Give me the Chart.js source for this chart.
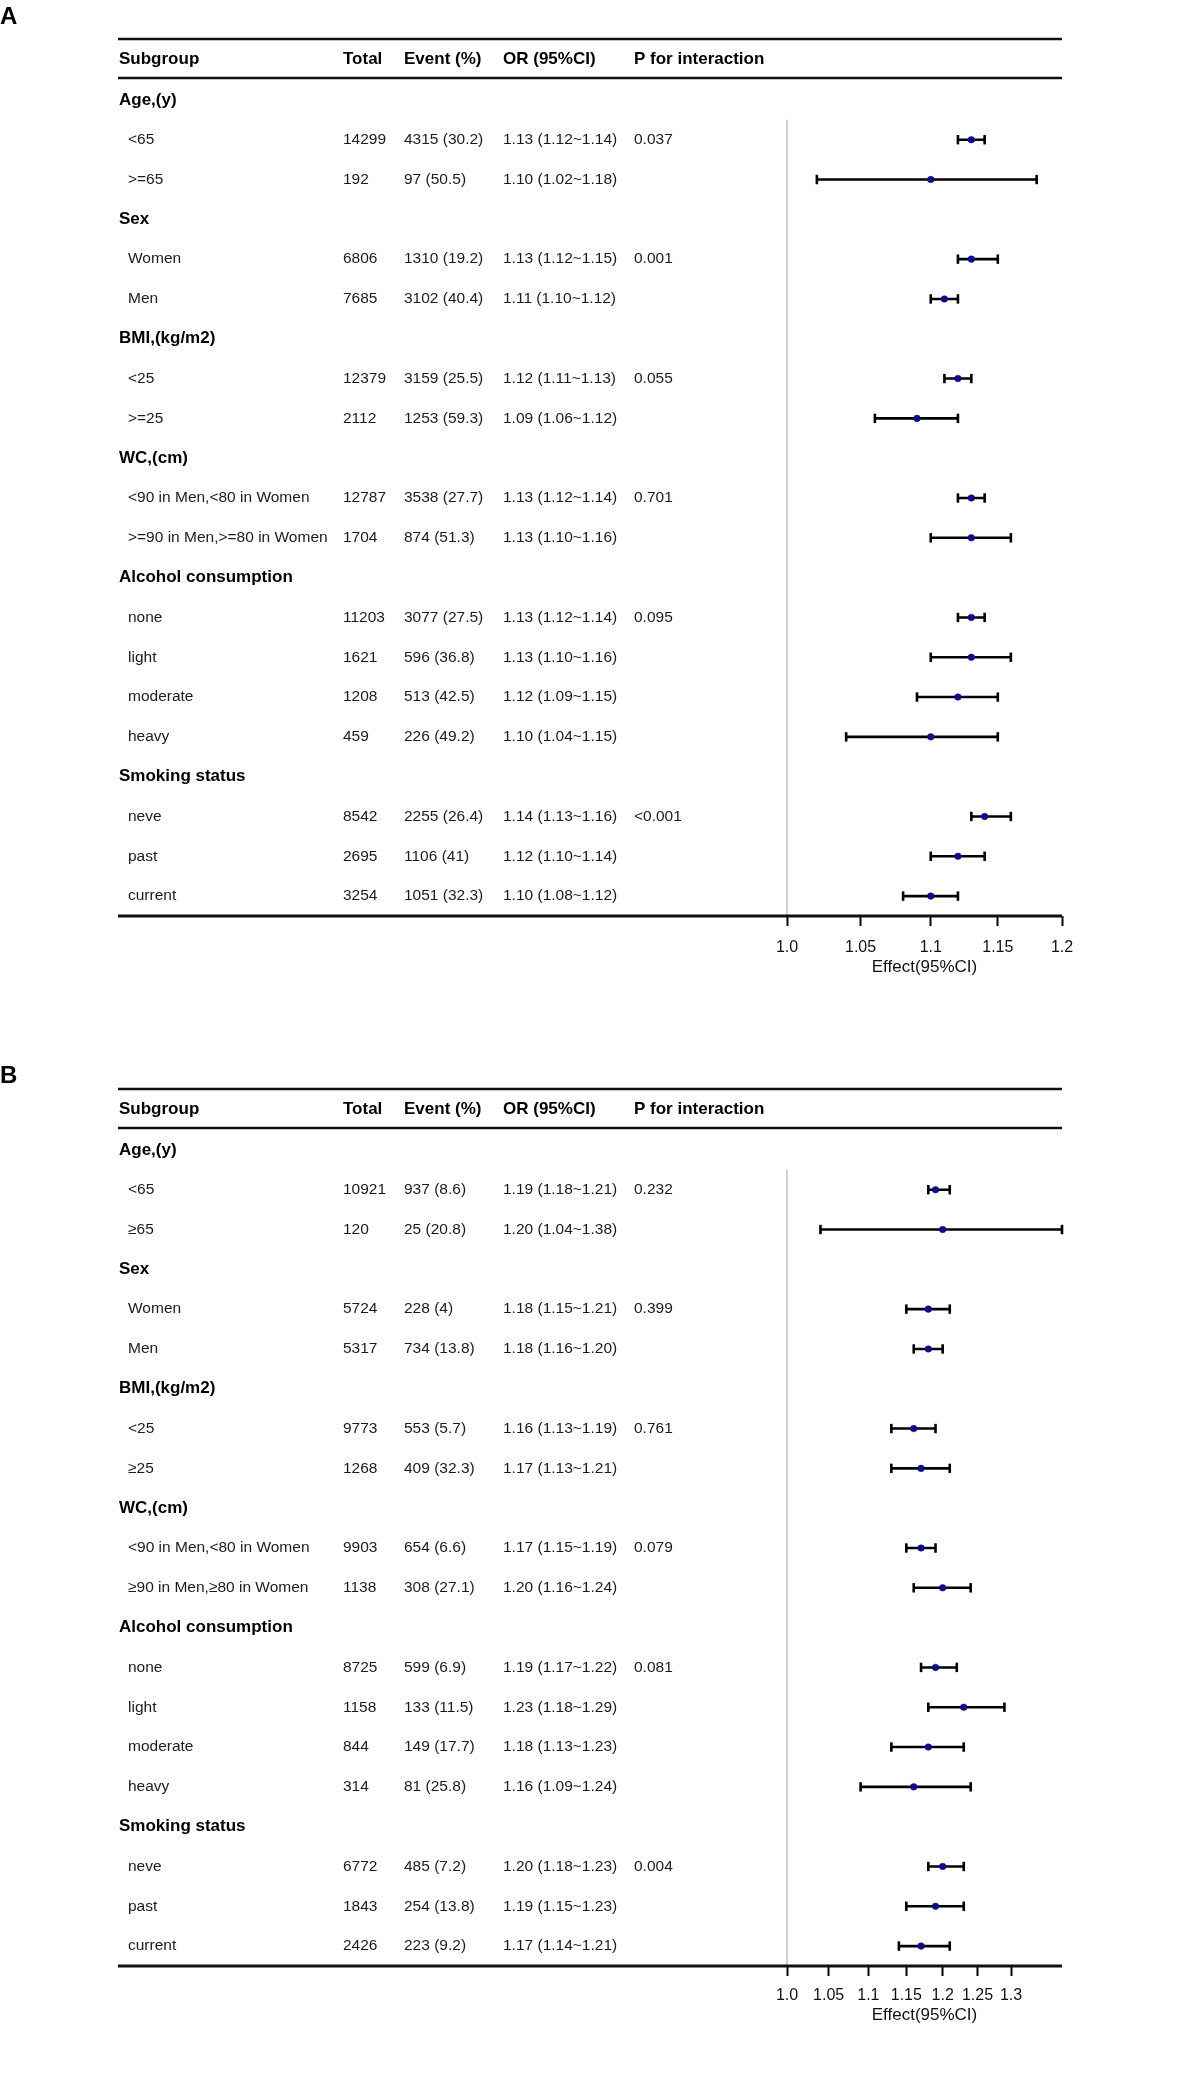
<!DOCTYPE html>
<html>
<head>
<meta charset="utf-8">
<script src="https://cdn.jsdelivr.net/npm/chart.js@4.4.1/dist/chart.umd.min.js"></script>
<style>
html, body { margin: 0; padding: 0; background: #fff; }
#wrap { position: relative; width: 1181px; height: 2074px; }
canvas { position: absolute; left: 0; }
#chartA { top: 0; }
#chartB { top: 1040px; }
</style>
</head>
<body>
<div id="wrap">
  <canvas id="chartA" width="1181" height="1040"></canvas>
  <canvas id="chartB" width="1181" height="1034"></canvas>
</div>
<script>
// subgroups shared by both panels
const groups = ['Age,(y)', 'Sex', 'BMI,(kg/m2)', 'WC,(cm)', 'Alcohol consumption', 'Smoking status'];
const groupSizes = [2, 2, 2, 2, 4, 3];
const headers = ['Subgroup', 'Total', 'Event (%)', 'OR (95%CI)', 'P for interaction'];

// panel A
const subA = ['<65', '>=65', 'Women', 'Men', '<25', '>=25', '<90 in Men,<80 in Women', '>=90 in Men,>=80 in Women',
  'none', 'light', 'moderate', 'heavy', 'neve', 'past', 'current'];
const totalA = [14299, 192, 6806, 7685, 12379, 2112, 12787, 1704, 11203, 1621, 1208, 459, 8542, 2695, 3254];
const eventA = ['4315 (30.2)', '97 (50.5)', '1310 (19.2)', '3102 (40.4)', '3159 (25.5)', '1253 (59.3)', '3538 (27.7)', '874 (51.3)',
  '3077 (27.5)', '596 (36.8)', '513 (42.5)', '226 (49.2)', '2255 (26.4)', '1106 (41)', '1051 (32.3)'];
const orA = [1.13, 1.10, 1.13, 1.11, 1.12, 1.09, 1.13, 1.13, 1.13, 1.13, 1.12, 1.10, 1.14, 1.12, 1.10];
const lowA = [1.12, 1.02, 1.12, 1.10, 1.11, 1.06, 1.12, 1.10, 1.12, 1.10, 1.09, 1.04, 1.13, 1.10, 1.08];
const highA = [1.14, 1.18, 1.15, 1.12, 1.13, 1.12, 1.14, 1.16, 1.14, 1.16, 1.15, 1.15, 1.16, 1.14, 1.12];
const pA = ['0.037', '', '0.001', '', '0.055', '', '0.701', '', '0.095', '', '', '', '<0.001', '', ''];
const ticksA = [1.0, 1.05, 1.1, 1.15, 1.2];
const tickLabelsA = ['1.0', '1.05', '1.1', '1.15', '1.2'];

// panel B
const subB = ['<65', '\u226565', 'Women', 'Men', '<25', '\u226525', '<90 in Men,<80 in Women', '\u226590 in Men,\u226580 in Women',
  'none', 'light', 'moderate', 'heavy', 'neve', 'past', 'current'];
const totalB = [10921, 120, 5724, 5317, 9773, 1268, 9903, 1138, 8725, 1158, 844, 314, 6772, 1843, 2426];
const eventB = ['937 (8.6)', '25 (20.8)', '228 (4)', '734 (13.8)', '553 (5.7)', '409 (32.3)', '654 (6.6)', '308 (27.1)',
  '599 (6.9)', '133 (11.5)', '149 (17.7)', '81 (25.8)', '485 (7.2)', '254 (13.8)', '223 (9.2)'];
const orB = [1.19, 1.20, 1.18, 1.18, 1.16, 1.17, 1.17, 1.20, 1.19, 1.23, 1.18, 1.16, 1.20, 1.19, 1.17];
const lowB = [1.18, 1.04, 1.15, 1.16, 1.13, 1.13, 1.15, 1.16, 1.17, 1.18, 1.13, 1.09, 1.18, 1.15, 1.14];
const highB = [1.21, 1.38, 1.21, 1.20, 1.19, 1.21, 1.19, 1.24, 1.22, 1.29, 1.23, 1.24, 1.23, 1.23, 1.21];
const pB = ['0.232', '', '0.399', '', '0.761', '', '0.079', '', '0.081', '', '', '', '0.004', '', ''];
const ticksB = [1.0, 1.05, 1.1, 1.15, 1.2, 1.25, 1.3];
const tickLabelsB = ['1.0', '1.05', '1.1', '1.15', '1.2', '1.25', '1.3'];

const FONT = '"Liberation Sans", Arial, Helvetica, sans-serif';
const headX = [119, 343, 404, 503, 634];
const colX = [128, 343, 404, 503, 634];
const lineLeft = 118;

function buildRows() {
  const rows = [];
  let k = 0;
  groups.forEach((g, gi) => {
    rows.push({ head: g });
    for (let j = 0; j < groupSizes[gi]; j++) rows.push({ item: k++ });
  });
  return rows;
}

function makePanel(id, d) {
  const rows = buildRows();
  const n = rows.length;
  const itemRow = [];
  rows.forEach((r, i) => { if (r.item !== undefined) itemRow[r.item] = i; });

  const dots = d.or.map((v, k) => ({ x: v, y: itemRow[k] }));
  const caps = [];
  const whiskers = [];
  d.low.forEach((lo, k) => {
    caps.push({ x: lo, y: itemRow[k] }, { x: d.high[k], y: itemRow[k] });
    whiskers.push({ x: lo, y: itemRow[k] }, { x: d.high[k], y: itemRow[k] }, { x: null, y: null });
  });

  const tablePlugin = {
    id: 'table',
    afterDraw(chart) {
      const ctx = chart.ctx;
      const ys = chart.scales.y;
      const ca = chart.chartArea;
      ctx.save();
      // panel letter
      ctx.fillStyle = '#000';
      ctx.font = 'bold 24px ' + FONT;
      ctx.textBaseline = 'middle';
      ctx.textAlign = 'left';
      ctx.fillText(d.letter, 0, d.letterY);

      // rules
      ctx.strokeStyle = '#111';
      ctx.lineWidth = 2.5;
      ctx.beginPath();
      ctx.moveTo(lineLeft, ca.top - 41); ctx.lineTo(ca.right, ca.top - 41);
      ctx.moveTo(lineLeft, ca.top - 2); ctx.lineTo(ca.right, ca.top - 2);
      ctx.stroke();
      ctx.lineWidth = 3.2;
      ctx.beginPath();
      ctx.moveTo(lineLeft, ca.bottom); ctx.lineTo(ca.right, ca.bottom);
      ctx.stroke();

      // header
      ctx.font = 'bold 17px ' + FONT;
      headers.forEach((h, i) => ctx.fillText(h, headX[i], ca.top - 21));

      // rows
      rows.forEach((r, i) => {
        const y = ys.getPixelForValue(i);
        if (r.head) {
          ctx.fillStyle = '#000';
          ctx.font = 'bold 17px ' + FONT;
          ctx.fillText(r.head, headX[0], y);
        } else {
          const k = r.item;
          ctx.fillStyle = '#1b1b1b';
          ctx.font = '15.5px ' + FONT;
          ctx.fillText(d.sub[k], colX[0], y);
          ctx.fillText(String(d.total[k]), colX[1], y);
          ctx.fillText(d.event[k], colX[2], y);
          ctx.fillText(d.or[k].toFixed(2) + ' (' + d.low[k].toFixed(2) + '~' + d.high[k].toFixed(2) + ')', colX[3], y);
          if (d.p[k]) ctx.fillText(d.p[k], colX[4], y);
        }
      });
      ctx.restore();
    }
  };

  new Chart(document.getElementById(id), {
    type: 'scatter',
    data: {
      datasets: [
        {
          data: dots, order: 0, clip: false,
          pointRadius: 3.3, pointBackgroundColor: '#0b0b8c', pointBorderColor: '#0b0b8c', pointBorderWidth: 0.5
        },
        {
          data: caps, order: 1, clip: false,
          pointStyle: 'line', rotation: 90, pointRadius: 4.7,
          pointBorderColor: '#000', pointBorderWidth: 2.6
        },
        {
          data: whiskers, order: 2, clip: false, showLine: true, spanGaps: false,
          borderColor: '#000', borderWidth: 2.6, pointRadius: 0
        },
        {
          data: [{ x: 1, y: 0.5 }, { x: 1, y: n - 0.5 }], order: 3, clip: false, showLine: true,
          borderColor: '#b3b3b3', borderWidth: 1.2, pointRadius: 0
        }
      ]
    },
    options: {
      responsive: false,
      animation: false,
      events: [],
      layout: { padding: { left: 787, right: 119, top: d.padTop, bottom: d.padBottom } },
      plugins: { legend: { display: false }, tooltip: { enabled: false } },
      scales: {
        y: {
          type: 'linear', reverse: true, min: -0.5, max: n - 0.5, display: false
        },
        x: {
          type: 'logarithmic', position: 'bottom', min: 1, max: d.xMax,
          afterBuildTicks: (s) => { s.ticks = d.ticks.map(v => ({ value: v })); },
          afterFit: (s) => { s.height = 62; },
          border: { display: false },
          grid: {
            display: true, drawOnChartArea: false, drawTicks: true,
            tickLength: 10, tickWidth: 2, tickColor: '#000'
          },
          ticks: {
            autoSkip: false, maxRotation: 0, minRotation: 0, padding: d.tickPad,
            color: '#111', font: { family: FONT, size: 16 },
            callback: (v, i) => d.tickLabels[i]
          },
          title: {
            display: true, text: 'Effect(95%CI)', color: '#111',
            font: { family: FONT, size: 17 }, padding: { top: 0, bottom: d.titlePad }
          }
        }
      }
    },
    plugins: [tablePlugin]
  });
}

makePanel('chartA', {
  letter: 'A', letterY: 17, padTop: 80, padBottom: 62, tickPad: 12, titlePad: 0, xMax: 1.2,
  sub: subA, total: totalA, event: eventA, or: orA, low: lowA, high: highA, p: pA,
  ticks: ticksA, tickLabels: tickLabelsA
});
makePanel('chartB', {
  letter: 'B', letterY: 36, padTop: 90, padBottom: 46, tickPad: 10, titlePad: 2, xMax: 1.38,
  sub: subB, total: totalB, event: eventB, or: orB, low: lowB, high: highB, p: pB,
  ticks: ticksB, tickLabels: tickLabelsB
});
</script>
</body>
</html>
